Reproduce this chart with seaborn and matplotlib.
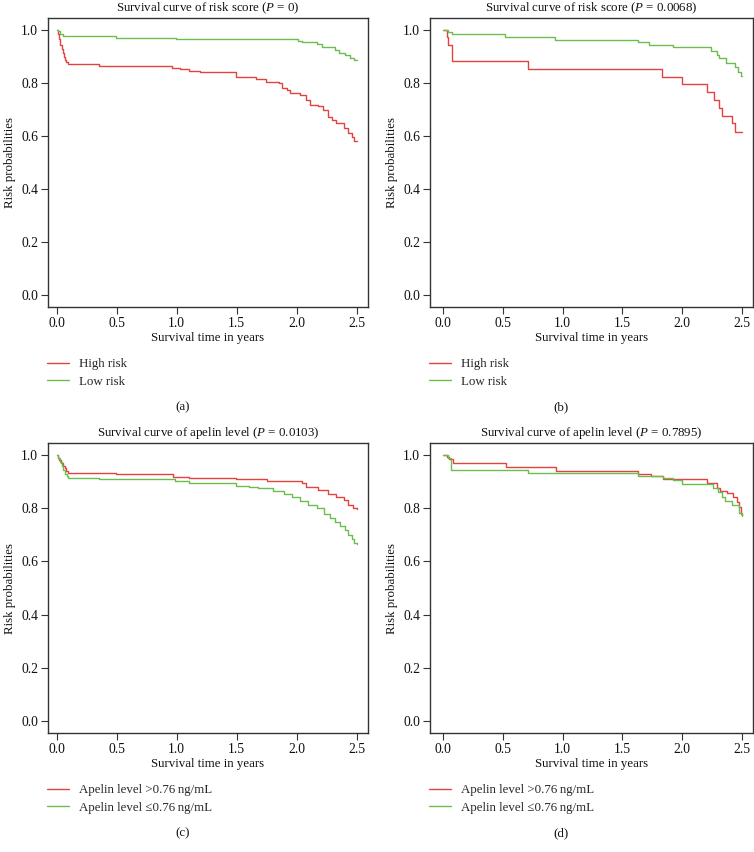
import numpy as np
import pandas as pd
import matplotlib
matplotlib.use("Agg")
import matplotlib.pyplot as plt
import seaborn as sns

sns.set_theme(style="white")
plt.rcParams['font.family'] = ['Liberation Serif', 'DejaVu Serif']
plt.rcParams['mathtext.fontset'] = 'custom'
plt.rcParams['mathtext.rm'] = 'Liberation Serif'
plt.rcParams['mathtext.it'] = 'Liberation Serif:italic'

# ---------------- data (step points: time, survival) ----------------
a_high_t = [0, 0.01, 0.02, 0.03, 0.04, 0.05, 0.06, 0.07, 0.08, 0.09, 0.35, 0.96, 1.03, 1.10, 1.19,
            1.49, 1.66, 1.74, 1.85, 1.875, 1.92, 1.94, 2.03, 2.08, 2.11, 2.18, 2.22, 2.26, 2.29,
            2.33, 2.39, 2.43, 2.46, 2.48, 2.50]
a_high_s = [1.0, 0.985, 0.965, 0.945, 0.93, 0.915, 0.90, 0.888, 0.878, 0.872, 0.865, 0.858, 0.853,
            0.845, 0.840, 0.821, 0.815, 0.805, 0.799, 0.780, 0.774, 0.761, 0.755, 0.736, 0.717,
            0.713, 0.700, 0.673, 0.660, 0.648, 0.629, 0.610, 0.595, 0.582, 0.580]
a_low_t = [0, 0.01, 0.03, 0.05, 0.49, 0.99, 2.01, 2.04, 2.17, 2.21, 2.32, 2.35, 2.40, 2.44, 2.48, 2.50]
a_low_s = [1.0, 0.995, 0.985, 0.978, 0.971, 0.966, 0.960, 0.953, 0.946, 0.935, 0.925, 0.914,
           0.906, 0.895, 0.887, 0.885]

b_high_t = [0, 0.028, 0.042, 0.07, 0.71, 1.835, 1.995, 2.21, 2.27, 2.31, 2.33, 2.42, 2.44, 2.50]
b_high_s = [1.0, 0.972, 0.943, 0.883, 0.853, 0.824, 0.796, 0.767, 0.736, 0.707, 0.677, 0.648,
            0.616, 0.616]
b_low_t = [0, 0.04, 0.07, 0.52, 0.935, 1.63, 1.72, 1.92, 2.245, 2.29, 2.31, 2.37, 2.44, 2.47, 2.49, 2.50]
b_low_s = [1.0, 0.991, 0.984, 0.975, 0.962, 0.953, 0.943, 0.935, 0.922, 0.906, 0.893, 0.874,
           0.862, 0.843, 0.826, 0.826]

c_high_t = [0, 0.01, 0.02, 0.035, 0.05, 0.065, 0.08, 0.095, 0.49, 0.97, 1.10, 1.49, 1.75, 2.04,
            2.08, 2.18, 2.26, 2.33, 2.39, 2.43, 2.47, 2.50]
c_high_s = [1.0, 0.99, 0.98, 0.97, 0.96, 0.95, 0.94, 0.934, 0.927, 0.918, 0.915, 0.909, 0.902,
            0.893, 0.881, 0.868, 0.853, 0.843, 0.831, 0.812, 0.800, 0.797]
c_low_t = [0, 0.01, 0.025, 0.04, 0.055, 0.07, 0.085, 0.095, 0.35, 0.985, 1.10, 1.49, 1.60, 1.68,
           1.80, 1.89, 1.96, 2.03, 2.09, 2.17, 2.23, 2.28, 2.32, 2.36, 2.40, 2.43, 2.46, 2.48, 2.50]
c_low_s = [1.0, 0.99, 0.975, 0.96, 0.945, 0.93, 0.92, 0.915, 0.909, 0.902, 0.894, 0.885, 0.879,
           0.875, 0.865, 0.853, 0.841, 0.827, 0.812, 0.800, 0.780, 0.762, 0.750, 0.735, 0.720,
           0.700, 0.685, 0.670, 0.667]

d_high_t = [0, 0.03, 0.05, 0.078, 0.525, 0.944, 1.634, 1.74, 1.838, 2.207, 2.29, 2.32, 2.375,
            2.425, 2.455, 2.475, 2.49, 2.50]
d_high_s = [1.0, 0.991, 0.984, 0.971, 0.954, 0.940, 0.927, 0.921, 0.909, 0.894, 0.875, 0.866,
            0.856, 0.841, 0.824, 0.806, 0.777, 0.775]
d_low_t = [0, 0.035, 0.063, 0.712, 1.634, 1.84, 1.92, 2.0, 2.26, 2.30, 2.33, 2.36, 2.42, 2.475, 2.50]
d_low_s = [1.0, 0.988, 0.944, 0.934, 0.921, 0.913, 0.906, 0.891, 0.877, 0.862, 0.842, 0.827,
           0.812, 0.781, 0.770]

titles = ["Survival curve of risk score ($P$ = 0)",
          "Survival curve of risk score ($P$ = 0.0068)",
          "Survival curve of apelin level ($P$ = 0.0103)",
          "Survival curve of apelin level ($P$ = 0.7895)"]
labels_risk = ["High risk", "Low risk"]
labels_apelin = ["Apelin level >0.76\u2009ng/mL", "Apelin level \u22640.76\u2009ng/mL"]
panel_tags = ["(a)", "(b)", "(c)", "(d)"]
x_ticks = [0.0, 0.5, 1.0, 1.5, 2.0, 2.5]
y_ticks = [0.0, 0.2, 0.4, 0.6, 0.8, 1.0]

RED = "#e3433c"
GREEN = "#6cbd4f"

panels = [
    (a_high_t, a_high_s, a_low_t, a_low_s, labels_risk),
    (b_high_t, b_high_s, b_low_t, b_low_s, labels_risk),
    (c_high_t, c_high_s, c_low_t, c_low_s, labels_apelin),
    (d_high_t, d_high_s, d_low_t, d_low_s, labels_apelin),
]

W, H = 754, 852
fig = plt.figure(figsize=(W / 100, H / 100), dpi=100)

# axes boxes in pixels: left, right, top, bottom
boxes = [(48, 368, 18, 307), (430, 753, 18, 307), (48, 368, 443, 733), (430, 753, 443, 733)]
xlims = [(-0.0725, 2.594), (-0.112, 2.593), (-0.0725, 2.594), (-0.112, 2.593)]
tag_x = [183, 561, 183, 561]
FS = 9.3

for i, (ht, hs, lt, ls, labs) in enumerate(panels):
    l, r, t, b = boxes[i]
    ax = fig.add_axes([l / W, 1 - b / H, (r - l) / W, (b - t) / H])
    df = pd.concat([
        pd.DataFrame({"time": ht, "surv": hs, "group": labs[0]}),
        pd.DataFrame({"time": lt, "surv": ls, "group": labs[1]}),
    ])
    sns.lineplot(data=df, x="time", y="surv", hue="group", hue_order=labs,
                 palette=[RED, GREEN], drawstyle="steps-post", estimator=None,
                 sort=False, linewidth=1.0, ax=ax, legend=True)
    ax.set_xlim(*xlims[i])
    ax.set_ylim(-0.0453, 1.0453)
    ax.set_xticks(x_ticks)
    ax.set_yticks(y_ticks)
    ax.set_xticklabels([f"{v:.1f}" for v in x_ticks], fontsize=9.8)
    ax.set_yticklabels([f"{v:.1f}" for v in y_ticks], fontsize=9.8)
    ax.tick_params(axis="both", direction="out", length=5, width=0.8, color="#333333",
                   pad=2, labelcolor="#111111", bottom=True, left=True)
    for sp in ax.spines.values():
        sp.set_color("#333333")
        sp.set_linewidth(1.0)
    ax.set_xlabel("Survival time in years", fontsize=FS, labelpad=2, color="#111111")
    ax.set_ylabel("Risk probabilities", fontsize=FS, labelpad=4, color="#111111")
    ax.set_title(titles[i], fontsize=FS, pad=5, color="#111111")
    handles, hl = ax.get_legend_handles_labels()
    ax.legend(handles, hl, loc="upper left",
              bbox_to_anchor=((l - 1) / W, 1 - (b + 51) / H), bbox_transform=fig.transFigure,
              frameon=False, fontsize=FS, handlelength=1.7, handletextpad=0.8,
              borderaxespad=0, borderpad=0, labelspacing=0.45)
    fig.text(tag_x[i] / W, 1 - (b + 100) / H, panel_tags[i],
             ha="center", va="center", fontsize=FS, color="#111111")

fig.savefig("out.png", dpi=100, facecolor="white")
